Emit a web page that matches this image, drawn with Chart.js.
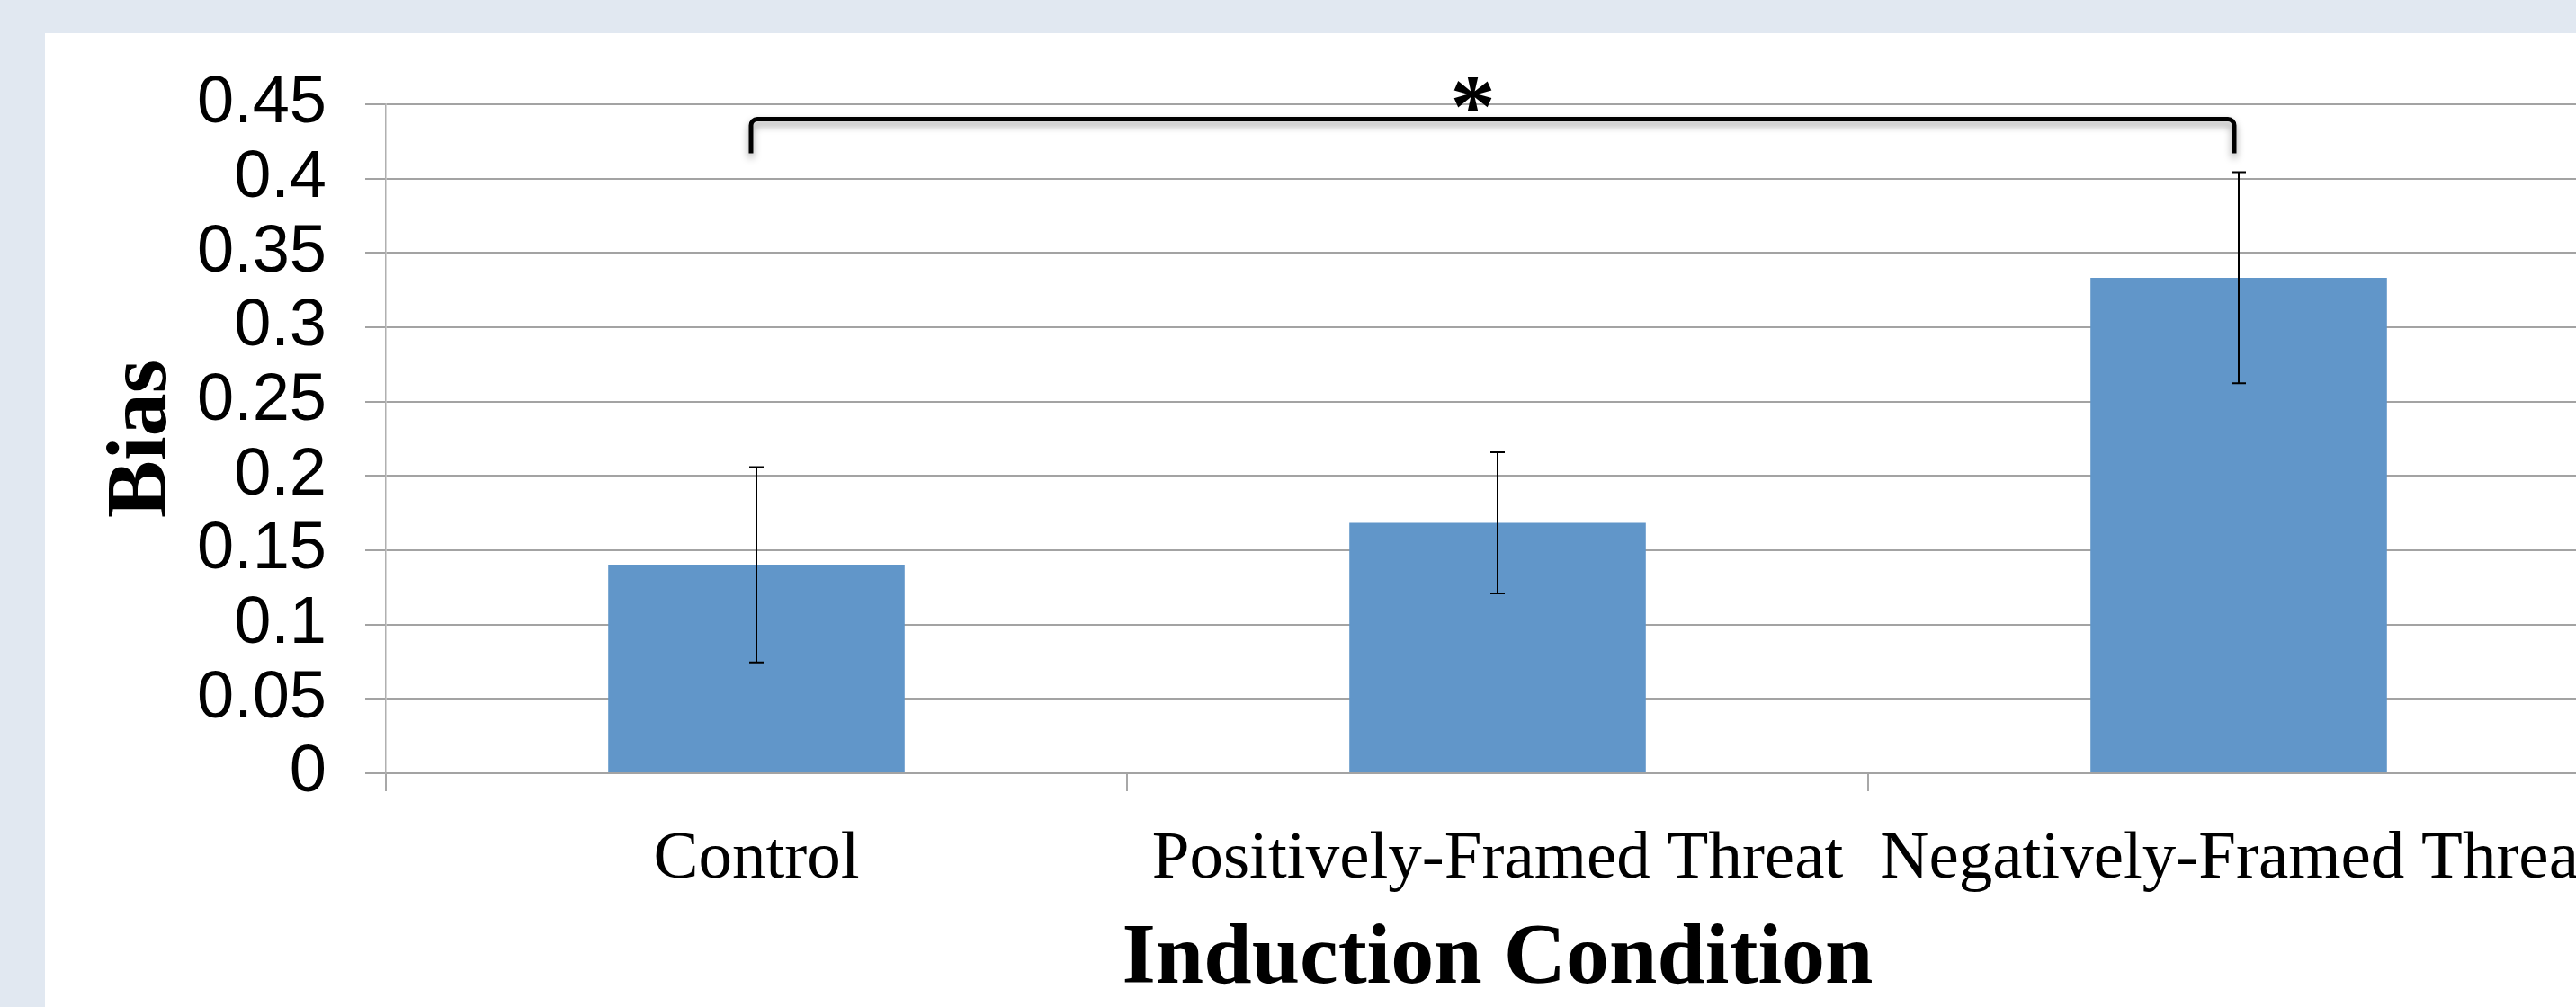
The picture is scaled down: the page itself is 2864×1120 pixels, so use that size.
<!DOCTYPE html>
<html>
<head>
<meta charset="utf-8">
<script src="https://cdn.jsdelivr.net/npm/chart.js@4/dist/chart.umd.min.js"></script>
<style>
  html, body { margin: 0; padding: 0; overflow: hidden; background: #e1e8f1; }
  #panel { position: absolute; left: 50px; top: 37px; width: 3000px; height: 1200px; background: #ffffff; }
  #wrap { position: absolute; left: 0; top: 0; width: 2960px; height: 1120px; }
</style>
</head>
<body>
<div id="panel"></div>
<div id="wrap"><canvas id="biasChart" width="2960" height="1120"></canvas></div>
<script>
// data
const conditions = ['Control', 'Positively-Framed Threat', 'Negatively-Framed Threat'];
const biasMeans = [0.1403, 0.1685, 0.3333];
const biasErrors = [0.0657, 0.0475, 0.0710];
const yTickLabels = ['0', '0.05', '0.1', '0.15', '0.2', '0.25', '0.3', '0.35', '0.4', '0.45'];
const bracketPair = [0, 2];            // conditions compared by the bracket
const bracketLevels = [0.4400, 0.417]; // bracket top, leg ends
const starLevel = 0.4287;
const starText = '*';

const errorBarPlugin = {
    id: 'errorBars',
    afterDatasetsDraw(chart) {
        const ctx = chart.ctx;
        const y = chart.scales.y;
        const bars = chart.getDatasetMeta(0).data;
        ctx.save();
        ctx.strokeStyle = '#000';
        ctx.lineWidth = 2;
        bars.forEach((bar, i) => {
            const top = y.getPixelForValue(biasMeans[i] + biasErrors[i]);
            const bottom = y.getPixelForValue(biasMeans[i] - biasErrors[i]);
            ctx.beginPath();
            ctx.moveTo(bar.x, top); ctx.lineTo(bar.x, bottom);
            ctx.moveTo(bar.x - 8, top); ctx.lineTo(bar.x + 8, top);
            ctx.moveTo(bar.x - 8, bottom); ctx.lineTo(bar.x + 8, bottom);
            ctx.stroke();
        });
        ctx.restore();
    }
};

const bracketPlugin = {
    id: 'sigBracket',
    afterDraw(chart) {
        const ctx = chart.ctx;
        const y = chart.scales.y;
        const bars = chart.getDatasetMeta(0).data;
        const left = bars[bracketPair[0]].x - 6;
        const right = bars[bracketPair[1]].x - 5;
        const top = y.getPixelForValue(bracketLevels[0]);
        const legEnd = y.getPixelForValue(bracketLevels[1]);
        const r = 7;
        ctx.save();
        ctx.shadowColor = 'rgba(0,0,0,0.4)';
        ctx.shadowBlur = 8;
        ctx.shadowOffsetY = 5;
        ctx.strokeStyle = '#000';
        ctx.lineWidth = 5;
        ctx.beginPath();
        ctx.moveTo(left, legEnd);
        ctx.lineTo(left, top + r);
        ctx.arcTo(left, top, left + r, top, r);
        ctx.lineTo(right - r, top);
        ctx.arcTo(right, top, right, top + r, r);
        ctx.lineTo(right, legEnd);
        ctx.stroke();
        ctx.restore();

        ctx.save();
        ctx.fillStyle = '#000';
        ctx.font = 'bold 100px "Liberation Serif"';
        ctx.textAlign = 'center';
        ctx.textBaseline = 'alphabetic';
        ctx.fillText(starText, (left + right) / 2 - 22, y.getPixelForValue(starLevel));
        ctx.restore();
    }
};

const ctx = document.getElementById('biasChart').getContext('2d');
new Chart(ctx, {
    type: 'bar',
    data: {
        labels: conditions,
        datasets: [{
            label: 'Bias',
            data: biasMeans,
            backgroundColor: '#6196c9',
            barPercentage: 0.4,
            categoryPercentage: 1.0
        }]
    },
    options: {
        responsive: false,
        animation: false,
        devicePixelRatio: 1,
        layout: { padding: { top: 116, right: 59, left: 0, bottom: 0 } },
        plugins: {
            legend: { display: false },
            tooltip: { enabled: false }
        },
        scales: {
            x: {
                afterFit(scale) { scale.height = 260; },
                grid: {
                    drawOnChartArea: false,
                    drawTicks: true,
                    tickLength: 20,
                    color: '#a8a8a8',
                    lineWidth: 2
                },
                border: { display: true, color: '#a3a3a3', width: 2 },
                ticks: {
                    color: '#000',
                    padding: 31,
                    maxRotation: 0,
                    autoSkip: false,
                    font: { family: '"Liberation Serif"', size: 75 }
                },
                title: {
                    display: true,
                    text: 'Induction Condition',
                    color: '#000',
                    padding: { top: 0, bottom: 4 },
                    font: { family: '"Liberation Serif"', size: 96, weight: 'bold', lineHeight: 1 }
                }
            },
            y: {
                min: 0,
                max: 0.45,
                afterFit(scale) { scale.width = 429; },
                grid: {
                    drawTicks: true,
                    tickLength: 23,
                    color: '#a3a3a3',
                    lineWidth: 2
                },
                border: { display: true, color: '#b0b0b0', width: 1.5 },
                ticks: {
                    stepSize: 0.05,
                    autoSkip: false,
                    color: '#000',
                    padding: 43,
                    font: { family: '"Liberation Sans"', size: 74 },
                    callback: (value, index) => yTickLabels[index]
                },
                title: {
                    display: true,
                    text: 'Bias',
                    color: '#000',
                    padding: { top: 111, bottom: 0 },
                    font: { family: '"Liberation Serif"', size: 96, weight: 'bold', lineHeight: 1 }
                }
            }
        }
    },
    plugins: [errorBarPlugin, bracketPlugin]
});
</script>
</body>
</html>
